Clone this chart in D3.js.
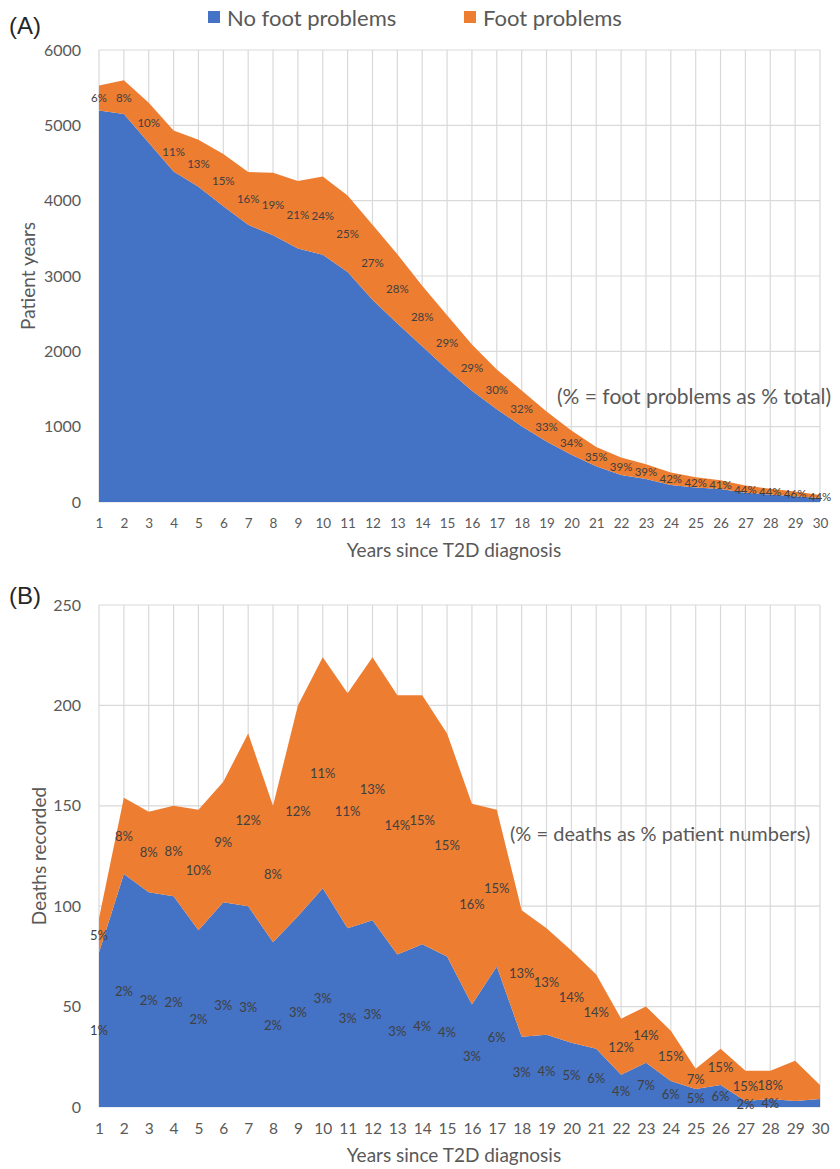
<!DOCTYPE html>
<html>
<head>
<meta charset="utf-8">
<script src="https://cdn.jsdelivr.net/npm/d3@7"></script>
<style>
  body { margin: 0; background: #fff; }
  svg text { font-family: Lato, "Open Sans", sans-serif; }
</style>
</head>
<body>
<svg id="chart" width="840" height="1169"></svg>
<script>
// Years since type 2 diabetes diagnosis
const years = [1,2,3,4,5,6,7,8,9,10,11,12,13,14,15,16,17,18,19,20,21,22,23,24,25,26,27,28,29,30];

// (A) patient years at risk
const patientYearsNoFoot = [5198,5152,4770,4388,4185,3927,3679,3540,3365,3283,3052,2686,2369,2066,1761,1478,1232,1006,804,627,474,360,305,226,191,171,123,99,75,52];
const patientYearsFoot   = [332,448,530,542,625,693,701,830,895,1037,1018,994,921,804,719,612,528,474,396,323,256,230,195,164,139,119,97,77,63,41];

// (B) deaths recorded
const deathsNoFoot = [77,116,107,105,88,102,100,82,95,109,89,93,76,81,75,51,70,35,36,32,29,16,22,13,9,11,3,4,3,4];
const deathsFoot   = [17,38,40,45,60,60,86,68,105,115,117,131,129,124,111,100,78,63,53,46,37,28,28,25,10,18,15,14,20,7];
const lastLabelledYearB = 28;

const seriesNames = ["No foot problems", "Foot problems"];
const seriesColors = ["#4472C4", "#ED7D31"];

const ticksA = [0,1000,2000,3000,4000,5000,6000];
const ticksB = [0,50,100,150,200,250];

const svg = d3.select("#chart");
const gridColor = "#d9d9d9";
const axisText = "#595959";
const labelText = "#404040";

const x = d3.scaleLinear().domain([1, 30]).range([99, 820]);

function drawPanel(opts) {
  const { rows, y, ticks, yTitle, xTickSize, yTitleX } = opts;
  const g = svg.append("g");
  const [y0, y1] = y.range();

  // grid
  g.append("g").selectAll("line").data(years).join("line")
    .attr("x1", d => x(d)).attr("x2", d => x(d))
    .attr("y1", y1).attr("y2", y0)
    .attr("stroke", gridColor).attr("stroke-width", 1.2);
  g.append("g").selectAll("line").data(ticks).join("line")
    .attr("x1", x(1)).attr("x2", x(30))
    .attr("y1", d => y(d)).attr("y2", d => y(d))
    .attr("stroke", gridColor).attr("stroke-width", 1.2);

  // stacked areas
  const stack = d3.stack().keys(["noFoot", "foot"])(rows);
  const area = d3.area()
    .x(d => x(d.data.year))
    .y0(d => y(d[0]))
    .y1(d => y(d[1]));
  g.append("g").selectAll("path").data(stack).join("path")
    .attr("d", area)
    .attr("fill", (d, i) => seriesColors[i]);

  // axes
  const xAxis = d3.axisBottom(x).tickValues(years).tickSize(0).tickPadding(opts.xTickPad)
    .tickFormat(d3.format("d"));
  const gx = g.append("g").attr("transform", `translate(0,${y0})`).call(xAxis);
  gx.select(".domain").remove();
  gx.selectAll("text").attr("fill", axisText).style("font-size", xTickSize + "px");

  const yAxis = d3.axisLeft(y).tickValues(ticks).tickSize(0).tickPadding(18)
    .tickFormat(d3.format("d"));
  const gy = g.append("g").attr("transform", `translate(${x(1)},0)`).call(yAxis);
  gy.select(".domain").remove();
  gy.selectAll("text").attr("fill", axisText).style("font-size", opts.yTickSize + "px");

  // axis titles
  g.append("text")
    .attr("x", 454).attr("y", opts.xTitleY)
    .attr("text-anchor", "middle")
    .attr("fill", axisText).style("font-size", "19px")
    .text("Years since T2D diagnosis");
  g.append("text")
    .attr("transform", `translate(${yTitleX},${(y0 + y1) / 2}) rotate(-90)`)
    .attr("text-anchor", "middle")
    .attr("dominant-baseline", "central")
    .attr("fill", axisText).style("font-size", "19px")
    .text(yTitle);

  return { g, stack };
}

function pct(v) { return Math.round(v * 100) + "%"; }

// ---------- (A) Patient years ----------
const rowsA = years.map((yr, i) => ({ year: yr, noFoot: patientYearsNoFoot[i], foot: patientYearsFoot[i] }));
const yA = d3.scaleLinear().domain([0, 6000]).range([502, 50]);
const pA = drawPanel({ rows: rowsA, y: yA, ticks: ticksA, yTitle: "Patient years",
  xTickSize: 13.5, xTickPad: 16, yTickSize: 16, xTitleY: 557, yTitleX: 27 });

// foot problems as share of all patient years, centred in the orange band
pA.g.append("g").selectAll("text").data(rowsA).join("text")
  .attr("x", d => x(d.year))
  .attr("y", d => yA(d.noFoot + d.foot / 2))
  .attr("text-anchor", "middle").attr("dominant-baseline", "central")
  .attr("fill", labelText).style("font-size", "11.5px")
  .text(d => pct(d.foot / (d.noFoot + d.foot)));

svg.append("text").attr("x", 557).attr("y", 395)
  .attr("dominant-baseline", "central")
  .attr("fill", axisText).style("font-size", "21px")
  .text("(% = foot problems as % total)");

// ---------- (B) Deaths ----------
const rowsB = years.map((yr, i) => ({ year: yr, noFoot: deathsNoFoot[i], foot: deathsFoot[i],
  pyNoFoot: patientYearsNoFoot[i], pyFoot: patientYearsFoot[i] }));
const yB = d3.scaleLinear().domain([0, 250]).range([1107, 605]);
const pB = drawPanel({ rows: rowsB, y: yB, ticks: ticksB, yTitle: "Deaths recorded",
  xTickSize: 15.5, xTickPad: 16, yTickSize: 16, xTitleY: 1162, yTitleX: 38 });

const labelledB = rowsB.filter(d => d.year <= lastLabelledYearB);
const lbl = pB.g.append("g").style("font-size", "13px").attr("fill", labelText);
lbl.selectAll("text.nf").data(labelledB).join("text")
  .attr("class", "nf")
  .attr("x", d => x(d.year))
  .attr("y", d => yB(d.noFoot / 2))
  .attr("text-anchor", "middle").attr("dominant-baseline", "central")
  .text(d => pct(d.noFoot / d.pyNoFoot));
lbl.selectAll("text.f").data(labelledB).join("text")
  .attr("class", "f")
  .attr("x", d => x(d.year))
  .attr("y", d => yB(d.noFoot + d.foot / 2))
  .attr("text-anchor", "middle").attr("dominant-baseline", "central")
  .text(d => pct(d.foot / d.pyFoot));

svg.append("text").attr("x", 510).attr("y", 833)
  .attr("dominant-baseline", "central")
  .attr("fill", axisText).style("font-size", "20px")
  .text("(% = deaths as % patient numbers)");

// panel letters
svg.append("text").attr("x", 9).attr("y", 34)
  .style("font-family", "'Liberation Sans', Arial, sans-serif").style("font-size", "24px")
  .attr("fill", "#262626").text("(A)");
svg.append("text").attr("x", 9).attr("y", 604)
  .style("font-family", "'Liberation Sans', Arial, sans-serif").style("font-size", "24px")
  .attr("fill", "#262626").text("(B)");

// legend
const legend = svg.append("g");
const legendX = [208, 464];
seriesNames.forEach((name, i) => {
  legend.append("rect").attr("x", legendX[i]).attr("y", 11).attr("width", 12).attr("height", 12)
    .attr("fill", seriesColors[i]);
  legend.append("text").attr("x", legendX[i] + 19).attr("y", 17)
    .attr("dominant-baseline", "central")
    .attr("fill", axisText).style("font-size", "22px").text(name);
});
</script>
</body>
</html>
